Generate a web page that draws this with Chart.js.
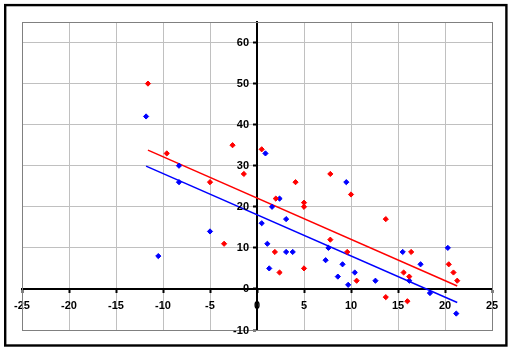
<!DOCTYPE html>
<html>
<head>
<meta charset="utf-8">
<script src="https://cdn.jsdelivr.net/npm/chart.js@4"></script>
<style>
  html, body { margin: 0; padding: 0; background: #fff; }
  canvas { display: block; }
</style>
</head>
<body>
<canvas id="scatterCanvas" width="512" height="351"></canvas>
<script>
// ==================== data ====================
const redX  = [-11.6, -9.6, -5.0, -3.5, -2.6, -1.4, 0.5, 2.0, 1.9, 2.4, 4.1, 5.0, 5.0, 5.0, 7.8, 7.8, 9.6, 10.0, 10.6, 13.7, 13.7, 15.6, 16.2, 16.4, 16.0, 20.4, 20.9, 21.3];
const redY  = [50, 33, 26, 11, 35, 28, 34, 22, 9, 4, 26, 21, 20, 5, 28, 12, 9, 23, 2, 17, -2, 4, 3, 9, -3, 6, 4, 2];
const blueX = [-11.8, -8.3, -8.3, -10.5, -5.0, 0.9, 2.4, 1.6, 9.5, 3.1, 0.5, 1.1, 3.1, 3.8, 1.3, 7.6, 7.3, 9.1, 10.4, 8.6, 9.7, 12.6, 15.5, 17.4, 16.2, 18.4, 20.3, 21.2];
const blueY = [42, 30, 26, 8, 14, 33, 22, 20, 26, 17, 16, 11, 9, 9, 5, 10, 7, 6, 4, 3, 1, 2, 9, 6, 2, -1, 10, -6];

// trend lines (end points)
const redTrendX  = [-11.6, 21.3];
const redTrendY  = [33.8, 0.7];
const blueTrendX = [-11.8, 21.3];
const blueTrendY = [29.9, -3.3];

// axes
const xMin = -25, xMax = 25, xStep = 5;
const yMin = -10, yMax = 65, yStep = 10;

const toPoints = (xs, ys) => xs.map((x, i) => ({ x: x, y: ys[i] }));

const tickFont = { family: '"Liberation Sans", Arial, sans-serif', size: 11, weight: 'bold' };

// frame, plot border and the y labels (chart.js ignores padding for axes placed at a value)
const framePlugin = {
    id: 'frame',
    beforeDraw(chart) {
        const ctx = chart.ctx;
        ctx.save();
        ctx.fillStyle = '#fff';
        ctx.fillRect(0, 0, chart.width, chart.height);
        ctx.restore();
    },
    beforeDatasetsDraw(chart) {
        const ctx = chart.ctx, a = chart.chartArea;
        ctx.save();
        ctx.strokeStyle = '#808080';
        ctx.lineWidth = 1;
        ctx.strokeRect(Math.round(a.left) + 0.5, Math.round(a.top) + 0.5, Math.round(a.right - a.left), Math.round(a.bottom - a.top));
        ctx.restore();
    },
    afterDraw(chart) {
        const ctx = chart.ctx;
        const xs = chart.scales.x, ys = chart.scales.y;
        const axisX = xs.getPixelForValue(0);
        ctx.save();
        ctx.font = `${tickFont.weight} ${tickFont.size}px ${tickFont.family}`;
        ctx.fillStyle = '#000';
        ctx.textAlign = 'right';
        ctx.textBaseline = 'middle';
        ys.ticks.forEach(t => {
            ctx.fillText(String(t.value), axisX - 8, ys.getPixelForValue(t.value) + 0.5);
        });
        ctx.strokeStyle = '#000';
        ctx.lineWidth = 2.4;
        ctx.strokeRect(5.2, 5.1, 501.2, 340.4);
        ctx.restore();
    }
};

new Chart(document.getElementById('scatterCanvas').getContext('2d'), {
    type: 'scatter',
    data: {
        datasets: [
            { data: toPoints(redX, redY), pointStyle: 'rectRot', pointRadius: 2.6, backgroundColor: '#ff0000', borderColor: '#ff0000', borderWidth: 1, order: 1 },
            { data: toPoints(blueX, blueY), pointStyle: 'rectRot', pointRadius: 2.6, backgroundColor: '#0000ff', borderColor: '#0000ff', borderWidth: 1, order: 2 },
            { type: 'line', data: toPoints(redTrendX, redTrendY), borderColor: '#ff0000', borderWidth: 1.5, pointRadius: 0, fill: false, order: 3 },
            { type: 'line', data: toPoints(blueTrendX, blueTrendY), borderColor: '#0000ff', borderWidth: 1.5, pointRadius: 0, fill: false, order: 4 }
        ]
    },
    options: {
        responsive: false,
        animation: false,
        layout: { padding: { left: 22, top: 22, right: 20, bottom: 21 } },
        plugins: { legend: { display: false }, tooltip: { enabled: false } },
        scales: {
            x: {
                type: 'linear',
                position: { y: 0 },
                min: xMin, max: xMax,
                ticks: { stepSize: xStep, autoSkip: false, maxRotation: 0, color: '#000', font: tickFont, padding: 7 },
                grid: { color: '#c0c0c0', lineWidth: 1, tickLength: 3, tickColor: '#000', tickWidth: 2 },
                border: { color: '#000', width: 2 }
            },
            y: {
                type: 'linear',
                position: { x: 0 },
                min: yMin, max: yMax,
                afterBuildTicks(scale) { scale.ticks = scale.ticks.filter(t => t.value % yStep === 0); },
                ticks: { stepSize: yStep, autoSkip: false, display: false },
                grid: { color: '#c0c0c0', lineWidth: 1, tickLength: 3, tickColor: '#000', tickWidth: 2 },
                border: { color: '#000', width: 2 }
            }
        }
    },
    plugins: [framePlugin]
});
</script>
</body>
</html>
